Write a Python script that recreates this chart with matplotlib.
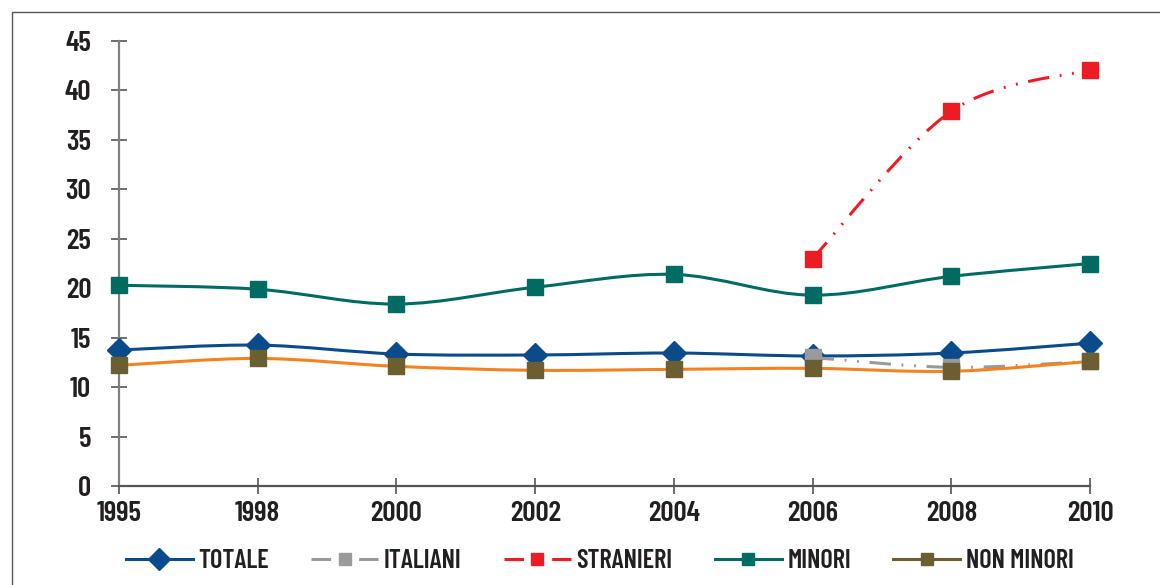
import numpy as np
import matplotlib
matplotlib.use('Agg')
import matplotlib.pyplot as plt
from matplotlib.path import Path
from matplotlib.patches import PathPatch, Rectangle
from matplotlib.lines import Line2D

plt.rcParams['font.family'] = ['Barlow Condensed', 'IBM Plex Sans Condensed', 'DejaVu Sans']
plt.rcParams['font.weight'] = 'semibold'

# ─── Data ──────────────────────────────────────────────────────────────────────
years = ['1995', '1998', '2000', '2002', '2004', '2006', '2008', '2010']

totale     = [13.75, 14.25, 13.35, 13.25, 13.45, 13.15, 13.45, 14.45]
italiani   = [None, None, None, None, None, 13.0, 12.0, 12.6]
stranieri  = [None, None, None, None, None, 23.0, 37.9, 42.1]
minori     = [20.3, 19.9, 18.4, 20.1, 21.4, 19.3, 21.2, 22.5]
non_minori = [12.2, 12.9, 12.1, 11.7, 11.8, 11.9, 11.6, 12.6]

labels = ['TOTALE', 'ITALIANI', 'STRANIERI', 'MINORI', 'NON MINORI']

NAVY = '#0B4A8B'
GREY = '#9A9A9C'
RED = '#ED1C24'
TEAL = '#006B63'
OLIVE = '#6B5E30'
ORANGE = '#F5821F'
TEXT = '#231F20'

DASHDOT2 = (0, (7, 3.5, 0.6, 3.5, 0.6, 3.5))
LEG_DASH = (0, (6.4, 9.2))   # scaled by linewidth -> "— ■ —"


def smooth_path(xs, ys):
    # Catmull-Rom style Bezier through the points (like Excel's smoothed line)
    pts = np.column_stack([xs, ys]).astype(float)
    n = len(pts)
    verts = [pts[0]]
    codes = [Path.MOVETO]
    for i in range(n - 1):
        p0 = pts[i - 1] if i > 0 else pts[i]
        p1 = pts[i]
        p2 = pts[i + 1]
        p3 = pts[i + 2] if i + 2 < n else pts[i + 1]
        c1 = p1 + (p2 - p0) / 6.0
        c2 = p2 - (p3 - p1) / 6.0
        verts += [c1, c2, p2]
        codes += [Path.CURVE4] * 3
    return Path(verts, codes)


def draw_series(ax, vals, line_color, marker, marker_color, ms, ls='-', z=3):
    xs = [i for i, v in enumerate(vals) if v is not None]
    ys = [v for v in vals if v is not None]
    patch = PathPatch(smooth_path(xs, ys), fill=False, edgecolor=line_color,
                      linewidth=2.2, linestyle=ls, zorder=z, clip_on=False,
                      capstyle='butt')
    ax.add_patch(patch)
    ax.plot(xs, ys, linestyle='none', marker=marker, markersize=ms,
            markerfacecolor=marker_color, markeredgecolor=marker_color,
            zorder=z + 0.5, clip_on=False)


fig = plt.figure(figsize=(11.6, 5.85), dpi=100)
ax = fig.add_axes([0.1026, 0.1692, 0.8371, 0.7607])

# outer frame of the box
fig.patches.append(Rectangle((12 / 1160, -0.1), 1.2, 1 - 12 / 585 + 0.1,
                             transform=fig.transFigure, fill=False,
                             edgecolor='#555555', linewidth=1.0))

draw_series(ax, stranieri, RED, 's', RED, 12, ls=DASHDOT2, z=3)
draw_series(ax, minori, TEAL, 's', TEAL, 12, z=4)
draw_series(ax, totale, NAVY, 'D', NAVY, 12, z=5)
draw_series(ax, italiani, GREY, 's', GREY, 12, ls=DASHDOT2, z=6)
draw_series(ax, non_minori, ORANGE, 's', OLIVE, 12, z=7)

ax.set_xlim(0, len(years) - 1)
ax.set_ylim(0, 45)
ax.set_xticks(range(len(years)))
ax.set_xticklabels(years)
ax.set_yticks(np.arange(0, 46, 5))

for s in ['top', 'right']:
    ax.spines[s].set_visible(False)
for s in ['left', 'bottom']:
    ax.spines[s].set_color('#808080')
    ax.spines[s].set_linewidth(1.6)
ax.spines['bottom'].set_color('#555555')

ax.tick_params(axis='y', direction='inout', length=12, width=1.2, color='#555555',
               labelsize=21, labelcolor=TEXT, pad=14)
ax.tick_params(axis='x', direction='inout', length=12, width=1.2, color='#555555',
               labelsize=21, labelcolor=TEXT, pad=5)

handles = [
    Line2D([], [], color=NAVY, lw=2.2, marker='D', ms=11, mfc=NAVY, mec=NAVY),
    Line2D([], [], color=GREY, lw=2.2, ls=LEG_DASH, marker='s', ms=9, mfc=GREY, mec=GREY),
    Line2D([], [], color=RED, lw=2.2, ls=LEG_DASH, marker='s', ms=9, mfc=RED, mec=RED),
    Line2D([], [], color=TEAL, lw=2.2, marker='s', ms=9, mfc=TEAL, mec=TEAL),
    Line2D([], [], color=OLIVE, lw=2.2, marker='s', ms=9, mfc=OLIVE, mec=OLIVE),
]
leg = fig.legend(handles, labels, loc='center', bbox_to_anchor=(0.517, 0.041),
                 ncol=5, frameon=False, fontsize=19, handlelength=2.55,
                 handletextpad=0.2, columnspacing=1.6)
for t in leg.get_texts():
    t.set_color(TEXT)

fig.savefig('out.png', dpi=100)
